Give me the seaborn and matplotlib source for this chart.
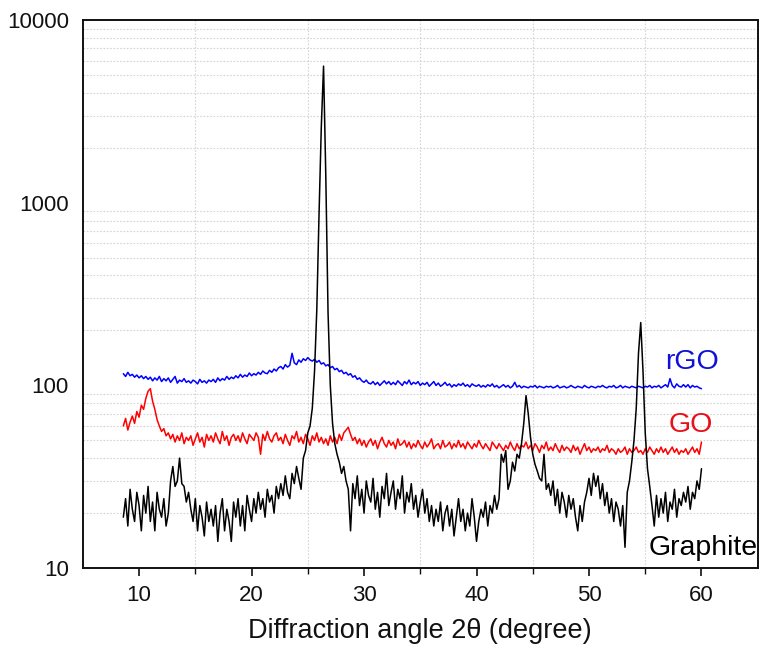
import numpy as np
import pandas as pd
import matplotlib
matplotlib.use("Agg")
import matplotlib.pyplot as plt
import seaborn as sns
from matplotlib.ticker import FixedLocator, NullFormatter

# ---------------- data ----------------
X_START = 8.6
X_STEP = 0.2

graphite = [
    19, 24, 17, 27, 21, 18, 26, 22, 16, 25,
    20, 28, 18, 23, 16, 26, 21, 19, 24, 17,
    20, 30, 36, 28, 30, 40, 29, 28, 23, 26,
    21, 18, 24, 16, 22, 19, 15, 23, 18, 21,
    17, 22, 14, 20, 24, 16, 21, 18, 14, 23,
    19, 24, 17, 22, 16, 25, 21, 18, 24, 20,
    26, 21, 24, 19, 27, 23, 25, 20, 28, 24,
    29, 25, 32, 26, 24, 33, 29, 36, 31, 27,
    40, 44, 55, 60, 75, 120, 260, 870, 2600, 5600,
    1400, 250, 100, 62, 48, 42, 38, 33, 36, 30,
    27, 16, 29, 24, 32, 22, 27, 20, 30, 25,
    23, 31, 21, 26, 19, 28, 24, 33, 22, 26,
    30, 21, 27, 24, 32, 20, 26, 23, 29, 21,
    25, 19, 23, 27, 20, 24, 18, 22, 17, 21,
    18, 23, 16, 20, 22, 17, 21, 15, 19, 24,
    18, 21, 16, 20, 17, 24, 19, 14, 18, 21,
    19, 23, 17, 22, 20, 25, 21, 24, 42, 38,
    44, 27, 30, 38, 34, 42, 40, 48, 62, 88,
    70, 52, 42, 37, 34, 31, 30, 42, 27, 29,
    25, 30, 22, 27, 20, 26, 23, 19, 25, 21,
    24, 19, 16, 22, 18, 23, 26, 31, 25, 33,
    28, 32, 24, 29, 22, 26, 20, 24, 18, 23,
    21, 17, 22, 13, 26, 30, 38, 50, 75, 150,
    221, 120, 55, 35, 28, 22, 17, 25, 19, 24,
    20, 26, 18, 23, 21, 27, 19, 24, 22, 26,
    23, 28, 21, 26, 24, 30, 27, 35,
]

go = [
    60, 66, 57, 63, 68, 62, 72, 67, 78, 74,
    85, 93, 96, 82, 74, 65, 60, 56, 58, 53,
    55, 51, 54, 49, 53, 50, 55, 48, 52, 50,
    53, 47, 51, 55, 49, 52, 46, 54, 50, 53,
    49, 55, 51, 48, 56, 50, 53, 47, 52, 54,
    50, 53, 49, 55, 51, 48, 54, 52, 50, 55,
    52, 42, 54, 50, 56, 51, 49, 53, 55, 50,
    52, 48, 54, 50, 47, 53, 51, 56, 49, 52,
    48, 54, 51, 47, 53, 50, 55, 49, 52, 48,
    51, 47, 53, 49, 52, 48, 54, 50, 55, 57,
    59, 54, 50, 52, 48, 51, 47, 50, 46, 49,
    51, 47, 50, 45, 49, 52, 48, 46, 50, 47,
    49, 45, 51, 47, 48, 50, 46, 49, 45, 48,
    46, 50, 47, 45, 49, 46, 48, 51, 45, 47,
    48, 45, 50, 46, 47, 49, 45, 48, 46, 50,
    46, 48, 45, 49, 47, 45, 48, 46, 50, 47,
    45, 48, 46, 44, 49, 47, 45, 48, 46, 44,
    47, 45, 49, 46, 44, 48, 45, 47, 46, 49,
    45, 47, 44, 48, 46, 43, 47, 45, 49, 44,
    46, 44, 48, 45, 43, 47, 44, 46, 45, 43,
    47, 44, 46, 42, 45, 48, 44, 46, 43, 45,
    44, 46, 43, 45, 44, 47, 43, 45, 44, 42,
    45, 43, 44, 46, 42, 45, 43, 44, 46, 43,
    44, 42, 45, 43, 46, 44, 42, 45, 43, 46,
    43, 45, 42, 44, 46, 43, 45, 42, 44, 43,
    45, 42, 44, 46, 43, 45, 42, 49,
]

rgo = [
    116, 112, 118, 113, 115, 111, 114, 110, 113, 109,
    112, 108, 111, 106, 110, 107, 112, 105, 109, 106,
    110, 104, 108, 112, 103, 107, 105, 109, 104, 106,
    103, 107, 105, 102, 108, 104, 106, 103, 107, 105,
    108, 104, 110, 106, 109, 107, 112, 108, 111, 109,
    113, 110, 115, 111, 114, 112, 117, 113, 116, 114,
    118, 115, 120, 117, 116, 121, 118, 123, 120, 125,
    127, 123, 130, 126, 129, 150, 133, 130, 138, 134,
    140, 137, 142, 138, 136, 139, 134, 137, 131, 133,
    128, 130, 125, 127, 122, 124, 119, 121, 116, 118,
    114, 116, 111, 113, 108, 110, 106, 104, 107, 103,
    102, 105, 101, 104, 100, 103, 106, 102, 105, 101,
    104, 101, 106, 103, 100, 105, 102, 107, 101, 104,
    102, 105, 100, 103, 101, 104, 99, 102, 105, 100,
    103, 99, 101, 104, 100, 102, 98, 101, 99, 102,
    100, 103, 99, 101, 98, 102, 100, 99, 101, 98,
    100, 98, 101, 99, 102, 98, 100, 97, 99, 101,
    98, 100, 97, 99, 104, 98, 100, 97, 99, 98,
    97, 99, 98, 100, 97, 99, 98, 97, 99, 98,
    99, 97, 98, 100, 97, 98, 99, 97, 98, 100,
    98, 97, 99, 98, 97, 100, 98, 97, 99, 98,
    97, 99, 98, 100, 98, 97, 99, 98, 100, 97,
    98, 100, 97, 99, 98, 97, 99, 98, 97, 99,
    98, 97, 99, 98, 100, 97, 99, 98, 100, 97,
    99, 101, 98, 109, 100, 97, 102, 99, 98, 101,
    98, 101, 97, 100, 98, 99, 97, 96,
]

series_names = ["rGO", "GO", "Graphite"]
series_colors = ["#0000ff", "#ff0000", "#000000"]
label_colors = ["#1010d8", "#e8101a", "#000000"]
label_pos = [(56.8, 134), (57.1, 60.5), (55.3, 12.9)]

x_ticks = [10, 20, 30, 40, 50, 60]
x_minor = [15, 25, 35, 45, 55]
y_ticks = [10, 100, 1000, 10000]
y_labels = ["10", "100", "1000", "10000"]
x_label = "Diffraction angle 2\u03b8 (degree)"

# ---------------- build table ----------------
n = len(graphite)
angle = np.round(X_START + X_STEP * np.arange(n), 2)
frames = []
for name, vals in zip(series_names, [rgo, go, graphite]):
    frames.append(pd.DataFrame({"angle": angle, "intensity": vals, "sample": name}))
df = pd.concat(frames, ignore_index=True)

# ---------------- plot ----------------
sns.set_theme(style="white")
plt.rcParams["font.family"] = ["Liberation Sans", "DejaVu Sans"]

fig = plt.figure(figsize=(7.6, 6.5), dpi=100)
ax = fig.add_axes([0.109, 0.126, 0.888, 0.843])

sns.lineplot(data=df, x="angle", y="intensity", hue="sample",
             hue_order=series_names, palette=series_colors,
             linewidth=1.1, legend=False, ax=ax, estimator=None, sort=False)

ax.set_yscale("log")
ax.set_xlim(5, 65)
ax.set_ylim(10, 10000)

ax.xaxis.set_major_locator(FixedLocator(x_ticks))
ax.xaxis.set_minor_locator(FixedLocator(x_minor))
ax.set_xticklabels([str(t) for t in x_ticks])
ax.yaxis.set_major_locator(FixedLocator(y_ticks))
ax.set_yticklabels(y_labels)
minor_y = [m * 10 ** d for d in range(1, 4) for m in range(2, 10)]
ax.yaxis.set_minor_locator(FixedLocator(minor_y))
ax.yaxis.set_minor_formatter(NullFormatter())

ax.grid(False)
ax.grid(True, which="minor", axis="both", color="#d4d4d4",
        linestyle=(0, (1.5, 1.5)), linewidth=0.8)
ax.set_axisbelow(True)

ax.tick_params(axis="x", which="major", direction="out", length=6, width=1.2,
               labelsize=16, pad=6, colors="#111111", bottom=True)
ax.tick_params(axis="x", which="minor", direction="out", length=4, width=1.0,
               bottom=True, colors="#111111")
ax.tick_params(axis="y", which="both", length=0, labelsize=16, pad=10,
               colors="#111111")

for sp in ax.spines.values():
    sp.set_visible(True)
    sp.set_color("#111111")
    sp.set_linewidth(1.4)

ax.set_xlabel(x_label, fontsize=19.5, labelpad=9, color="#111111")
ax.set_ylabel("")

for name, col, (lx, ly) in zip(series_names, label_colors, label_pos):
    ax.text(lx, ly, name, color=col, fontsize=20.5, ha="left", va="center")

fig.savefig("out.png", dpi=100)
